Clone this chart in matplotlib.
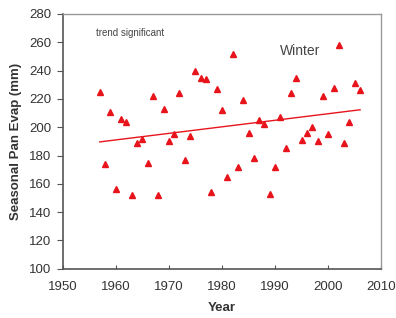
import matplotlib
matplotlib.use("Agg")
import matplotlib.pyplot as plt
import numpy as np

years = list(range(1957, 2007))
evap = [225, 174, 211, 156, 206, 204, 152, 189, 192, 175,
        222, 152, 213, 190, 195, 224, 177, 194, 240, 235,
        234, 154, 227, 212, 165, 252, 172, 219, 196, 178,
        205, 202, 153, 172, 207, 185, 224, 235, 191, 196,
        200, 190, 222, 195, 228, 258, 189, 204, 231, 226]
xticks = [1950, 1960, 1970, 1980, 1990, 2000, 2010]
yticks = [100, 120, 140, 160, 180, 200, 220, 240, 260, 280]

plt.rcParams['font.family'] = ['Liberation Sans', 'DejaVu Sans']

fig = plt.figure(figsize=(3.96, 3.18), dpi=100)
ax = fig.add_axes([0.158, 0.155, 0.805, 0.801])

red = '#e8141c'
ax.plot(years, evap, linestyle='none', marker='^', markersize=4.0,
        color=red, markeredgecolor=red)
coef = np.polyfit(years, evap, 1)
tx = np.array([years[0], years[-1]])
ax.plot(tx, np.polyval(coef, tx), color=red, linewidth=1.0)

ax.set_xlim(1950, 2010)
ax.set_ylim(100, 280)
ax.set_xticks(xticks)
ax.set_yticks(yticks)
ax.tick_params(axis='x', direction='in', length=3, labelsize=9.5,
               colors='#555555', labelcolor='#333333', pad=9)
ax.tick_params(axis='y', direction='out', length=4, labelsize=9.5,
               colors='#555555', labelcolor='#333333', pad=4)
for s in ['left', 'bottom']:
    ax.spines[s].set_color('#555555')
    ax.spines[s].set_linewidth(1.2)
for s in ['top', 'right']:
    ax.spines[s].set_color('#999999')
    ax.spines[s].set_linewidth(1.0)

ax.set_xlabel('Year', fontsize=9.5, fontweight='bold', color='#333333', labelpad=6)
ax.set_ylabel('Seasonal Pan Evap (mm)', fontsize=9.5, fontweight='bold',
              color='#333333', labelpad=5)

ax.text(0.104, 0.925, 'trend significant', transform=ax.transAxes,
        fontsize=7, color='#444444', va='center', ha='left')
ax.text(0.683, 0.853, 'Winter', transform=ax.transAxes,
        fontsize=10, color='#444444', va='center', ha='left')

fig.savefig('out.png', dpi=100)
